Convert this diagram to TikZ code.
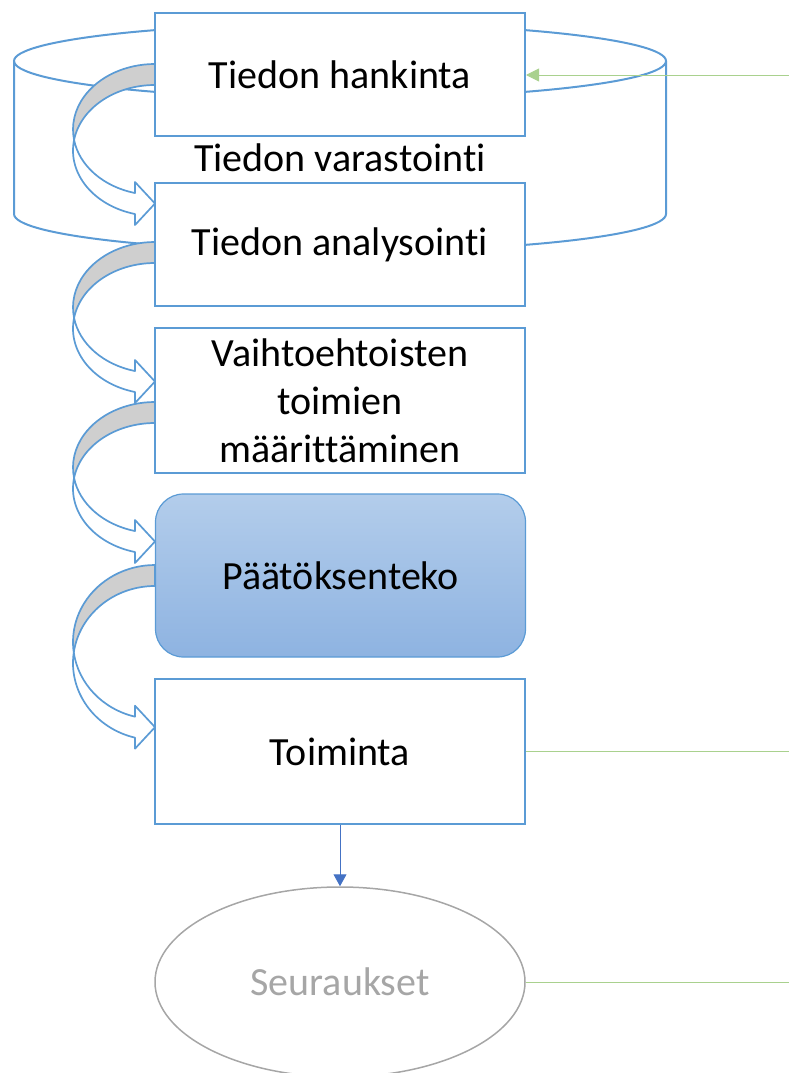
\documentclass[tikz,border=0pt]{standalone}
\usepackage{fontspec}
\setmainfont{Carlito}[Ligatures={CommonOff,ContextualOff}, RawFeature=-liga]
\usepackage{tikz}
\usetikzlibrary{arrows.meta, shapes.geometric}

\definecolor{boxblue}{HTML}{5B9BD5}
\definecolor{bandgray}{HTML}{CFCFCF}
\definecolor{decTop}{HTML}{B3CDEB}
\definecolor{decBot}{HTML}{8EB3E1}
\definecolor{ovalgray}{HTML}{A6A6A6}
\definecolor{feedgreen}{HTML}{A9D18E}
\definecolor{downblue}{HTML}{4472C4}

\begin{document}
\begin{tikzpicture}[x=1pt, y=1pt,
  every node/.style={align=center, font=\fontsize{40}{48}\selectfont},
  procbox/.style={draw=boxblue, line width=2pt, fill=white, minimum width=370pt, inner sep=0pt},
  decbox/.style={draw=boxblue, line width=1.2pt, rounded corners=28pt, top color=decTop, bottom color=decBot, minimum width=370pt, minimum height=163pt},
  resultoval/.style={ellipse, draw=ovalgray, line width=1.5pt, text=ovalgray, minimum width=370pt, minimum height=190pt, inner sep=0pt},
  cylline/.style={draw=boxblue, line width=2pt},
  bandback/.style={draw=boxblue, line width=1.7pt, line join=round, fill=bandgray},
  bandfront/.style={draw=boxblue, line width=1.7pt, line join=round, fill=white},
  feedline/.style={draw=feedgreen, line width=1pt}
]
  \useasboundingbox (0,0) rectangle (789,-1073);

  % storage cylinder behind the first two steps
  \draw[cylline] (340,-61) ellipse[x radius=326pt, y radius=37.5pt];
  \draw[cylline] (14,-61) -- (14,-214) arc[start angle=180, end angle=360, x radius=326pt, y radius=37.5pt] -- (666,-61);
  \node (store) at (340,-158) {Tiedon varastointi};

  % curved block arrows between the steps
  \foreach \ys/\ry in {64/65.5, 242/65.5, 402/65.5, 565/77} {
    \pgfmathsetmacro\angL{180-asin(10.5/\ry)}
    \pgfmathsetmacro\angU{360-\angL}
    \pgfmathsetmacro\angEnd{180+acos(20/82)}
    \pgfmathsetmacro\xCr{155+82*cos(\angU)}
    \pgfmathsetmacro\yCr{-(\ys+\ry+10.5)}
    \pgfmathsetmacro\yEnd{\ys+\ry*(1+sin(acos(20/82)))}
    \draw[bandback] (155,-\ys) arc[start angle=90, end angle=\angU, x radius=82pt, y radius=\ry pt]
      arc[start angle=\angL, end angle=90, x radius=82pt, y radius=\ry pt] -- cycle;
    \draw[bandfront] (\xCr,\yCr) arc[start angle=\angU, end angle=\angEnd, x radius=82pt, y radius=\ry pt]
      -- (135,-\yEnd+11) -- (155,-\yEnd-10.5) -- (135,-\yEnd-32) -- (135,-\yEnd-21)
      arc[start angle=\angEnd, end angle=\angL, x radius=82pt, y radius=\ry pt] -- cycle;
  }

  \node[procbox, minimum height=123pt] (hankinta) at (340,-74.5) {Tiedon hankinta};
  \node[procbox, minimum height=123pt] (analyysi) at (340,-244.5) {Tiedon analysointi};
  \node[procbox, minimum height=145pt] (vaihtoehdot) at (340,-400.5) {Vaihtoehtoisten\\toimien\\määrittäminen};
  \node[decbox] (paatos) at (340.5,-575.5) {Päätöksenteko};
  \node[procbox, minimum height=145pt] (toiminta) at (340,-751.5) {Toiminta};
  \node[resultoval] (seuraus) at (340,-982) {Seuraukset};

  \coordinate (tietoIn) at (789,-75);
  \coordinate (toimOut) at (789,-751.5);
  \coordinate (seurOut) at (789,-982);

  \draw[feedline, -{Triangle[length=13pt, width=13pt]}] (tietoIn) -- (tietoIn -| hankinta.east);
  \draw[feedline] (toiminta.east) -- (toimOut);
  \draw[feedline] (seuraus.east) -- (seurOut);
  \draw[downblue, line width=1pt, -{Triangle[length=12pt, width=13pt]}] (toiminta) -- (seuraus);
\end{tikzpicture}
\end{document}
